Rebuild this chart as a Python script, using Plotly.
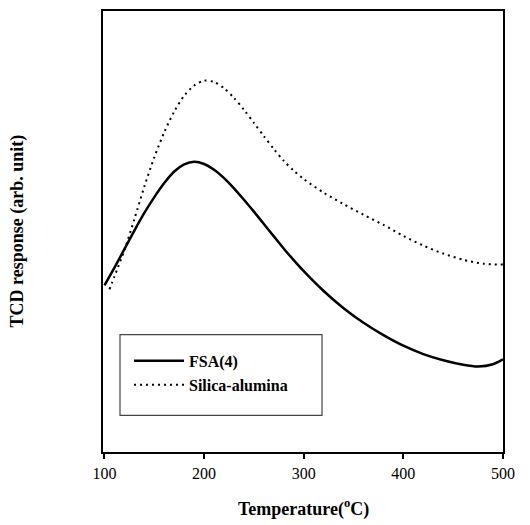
import plotly.graph_objects as go

# Temperature (°C) and TCD response (arbitrary units, 0-100 scale)
fsa_temp = [100, 110, 120, 130, 140, 150, 160, 170, 180, 190, 200, 210, 220, 230, 240,
            250, 260, 270, 280, 290, 300, 320, 340, 360, 380, 400, 420, 440, 460, 475, 490, 500]
fsa_resp = [37.8, 41.8, 46.0, 50.2, 54.2, 57.8, 61.0, 63.6, 65.2, 65.8, 65.3, 64.0, 62.1, 59.8, 57.2,
            54.5, 51.7, 48.9, 46.1, 43.5, 41.0, 36.5, 32.6, 29.3, 26.5, 24.1, 22.2, 20.8, 19.8, 19.4, 19.9, 21.0]

sa_temp = [105, 110, 120, 130, 140, 150, 160, 170, 180, 190, 200, 210, 220, 230, 240,
           250, 260, 270, 280, 290, 300, 320, 340, 360, 380, 400, 420, 440, 460, 480, 500]
sa_resp = [36.9, 39.8, 45.8, 52.8, 60.2, 66.8, 72.5, 77.2, 80.8, 83.1, 84.2, 83.9, 82.5, 80.3, 77.6,
           74.6, 71.6, 68.7, 66.0, 63.8, 61.9, 58.8, 56.2, 53.8, 51.5, 49.0, 46.8, 45.0, 43.6, 42.7, 42.5]

x_ticks = [100, 200, 300, 400, 500]
series_names = ["FSA(4)", "Silica-alumina"]

font_family = "Liberation Serif, Times New Roman, serif"

fig = go.Figure()
fig.add_trace(go.Scatter(x=fsa_temp, y=fsa_resp, mode="lines", name=series_names[0],
                         line=dict(color="black", width=2.5, shape="spline", smoothing=0.8)))
fig.add_trace(go.Scatter(x=sa_temp, y=sa_resp, mode="lines", name=series_names[1],
                         line=dict(color="black", width=2, dash="2px,4px", shape="spline",
                                   smoothing=0.8)))

fig.update_layout(
    width=522, height=517,
    margin=dict(l=95, r=27, t=1, b=73),
    paper_bgcolor="white", plot_bgcolor="white",
    font=dict(family=font_family, color="black", size=16),
    showlegend=True,
    legend=dict(x=0.065, y=0.245, xanchor="left", yanchor="top",
                bgcolor="rgba(0,0,0,0)", borderwidth=0,
                font=dict(family=font_family, size=16, color="black", weight="bold"),
                itemwidth=50, tracegroupgap=0, itemclick=False),
    xaxis=dict(range=[98.5, 500], tickvals=x_ticks, ticks="outside", ticklen=5,
               tickwidth=1.5, tickcolor="black", showline=True, linecolor="black",
               linewidth=2, mirror=True, showgrid=False, zeroline=False,
               ticklabelstandoff=1,
               tickfont=dict(size=16, family=font_family)),
    yaxis=dict(range=[0, 100], showticklabels=False, ticks="", showline=True,
               linecolor="black", linewidth=2, mirror=True, showgrid=False,
               zeroline=False),
    shapes=[dict(type="rect", xref="paper", yref="paper",
                 x0=0.0425, x1=0.5475, y0=0.083, y1=0.266,
                 line=dict(color="#444", width=1.2), fillcolor="rgba(0,0,0,0)")],
    annotations=[
        dict(text="Temperature(<sup>o</sup>C)", xref="paper", yref="paper",
             x=0.5, y=-0.095, xanchor="center", yanchor="top", showarrow=False,
             font=dict(size=18, family=font_family, weight="bold")),
        dict(text="TCD response (arb. unit)", xref="paper", yref="paper",
             x=-0.215, y=0.5, xanchor="center", yanchor="middle", showarrow=False,
             textangle=-90, font=dict(size=18, family=font_family, weight="bold")),
    ],
)

fig.write_html("out.html")
